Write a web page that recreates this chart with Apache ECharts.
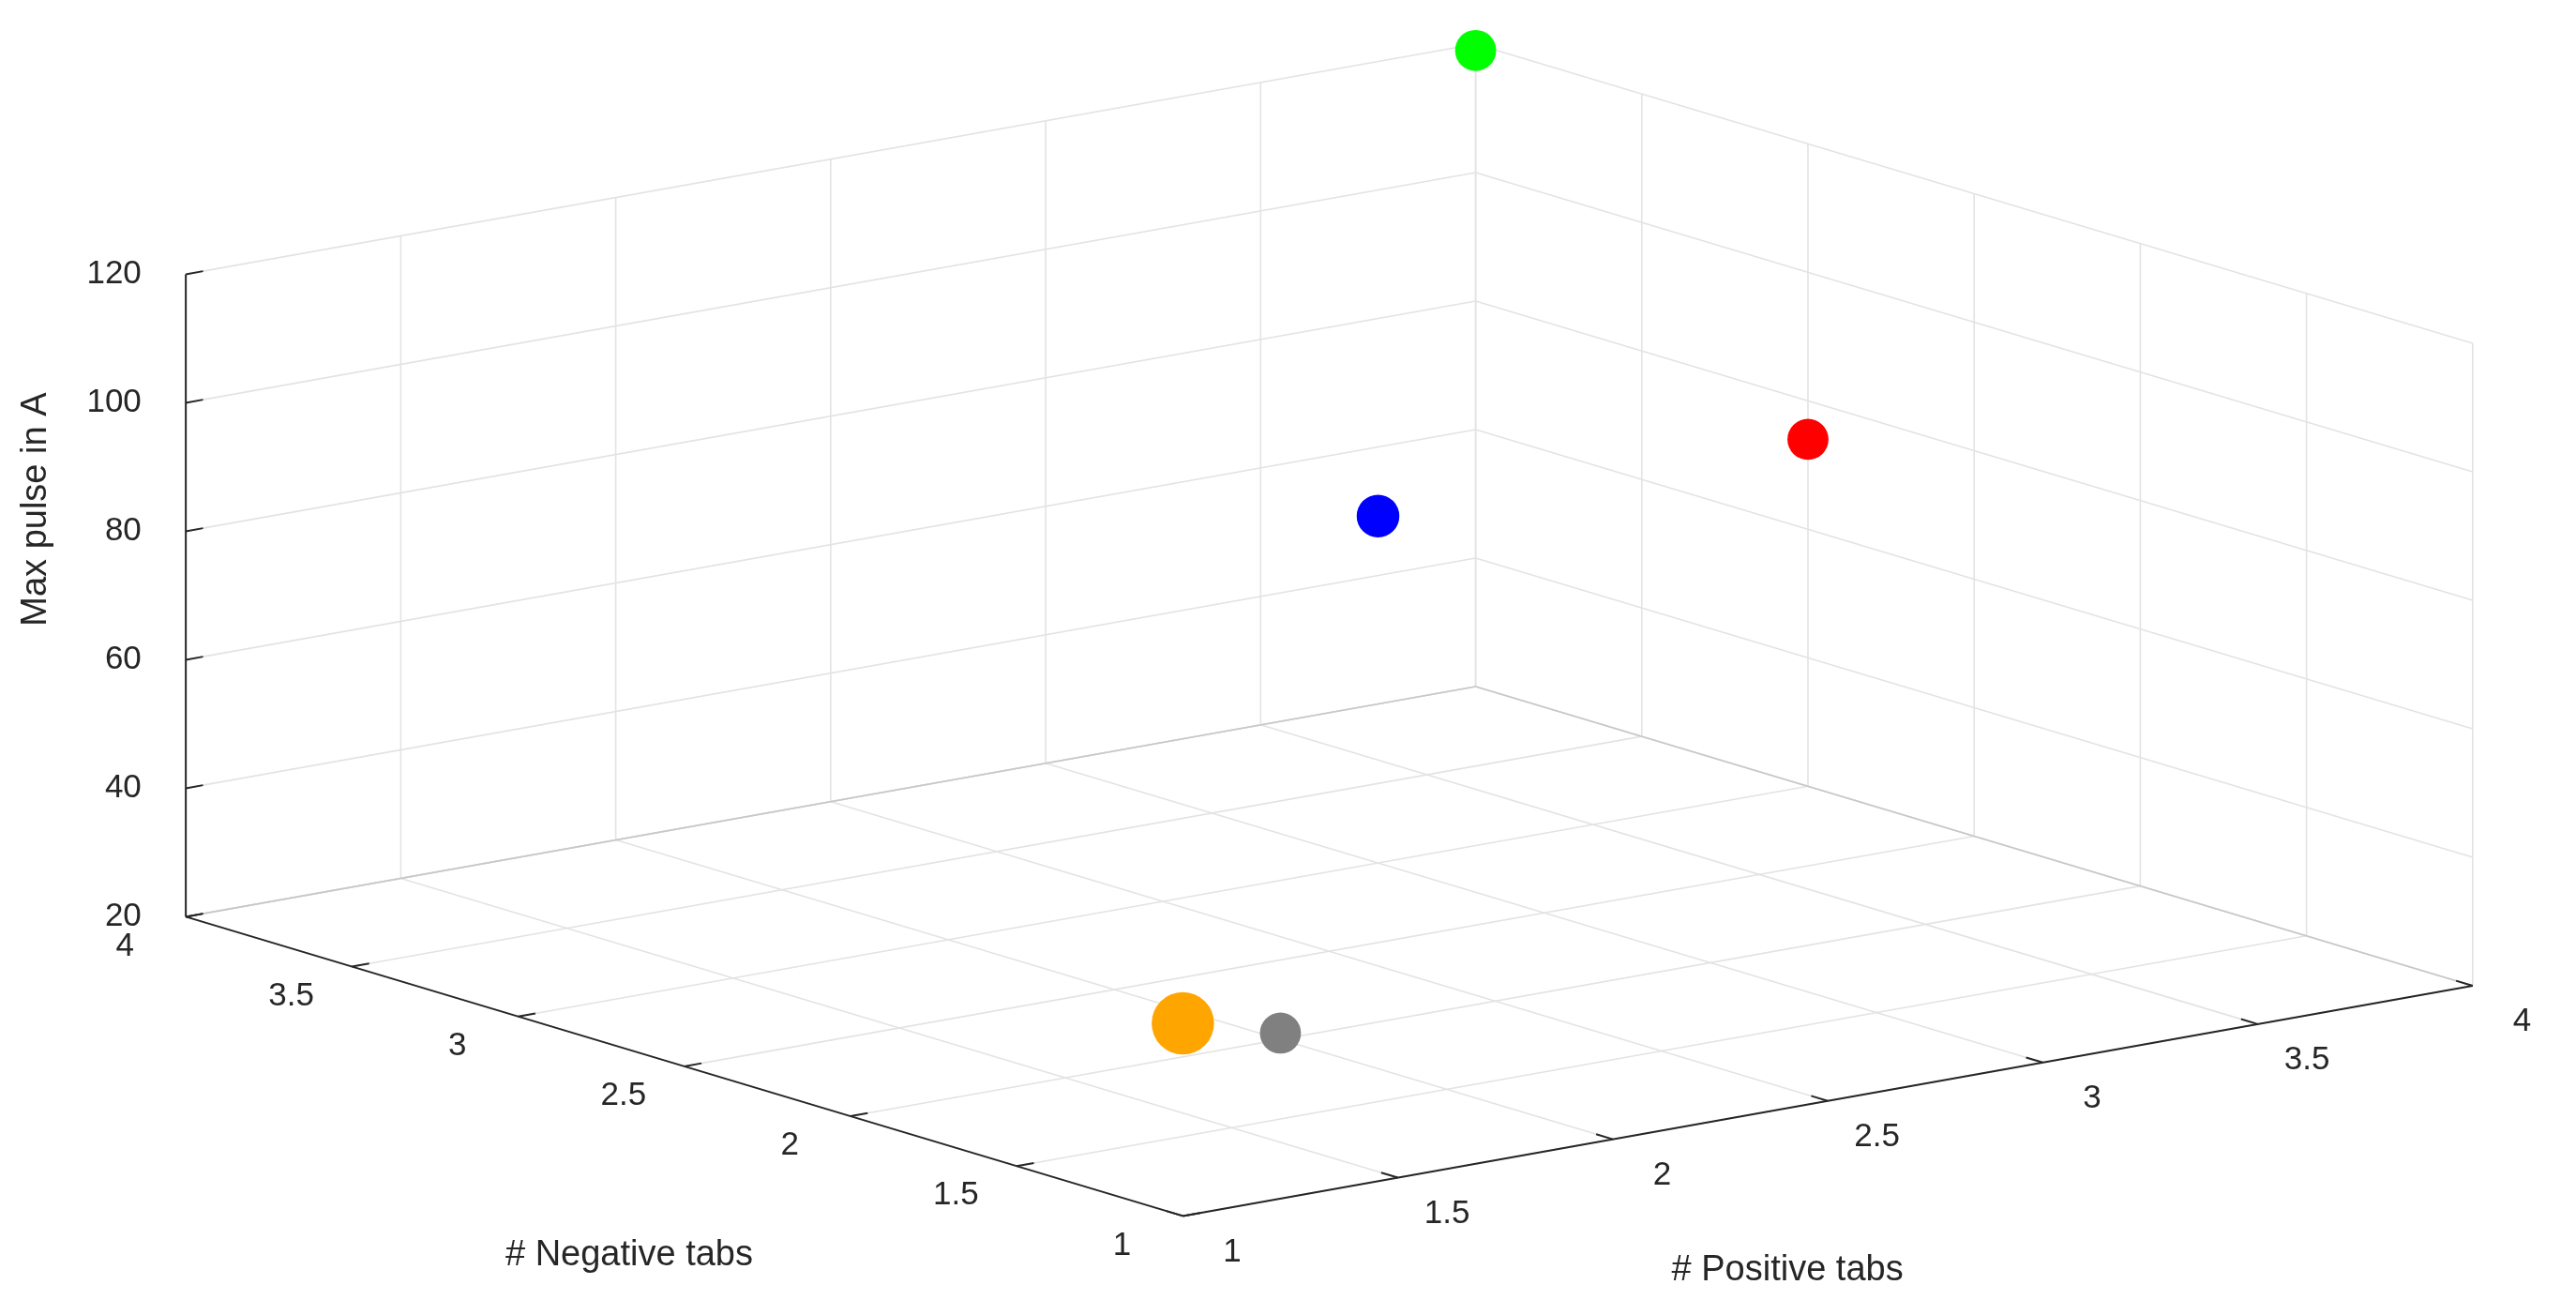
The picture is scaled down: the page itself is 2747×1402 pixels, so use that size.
<!DOCTYPE html>
<html><head><meta charset="utf-8">
<script src="https://cdn.jsdelivr.net/npm/echarts@6/dist/echarts.min.js"></script>
<style>html,body{margin:0;padding:0;background:#fff}#c{width:2747px;height:1402px}</style>
</head><body><div id="c"></div>
<script>
// Data: [positive tabs, negative tabs, max pulse]
const positiveTabs = [4, 4, 3, 1, 2];
const negativeTabs = [4, 3, 3, 1, 2];
const maxPulse     = [119, 74, 74, 50, 21];
const pointColors  = ['#00ff00', '#ff0000', '#0000ff', '#ffa500', '#808080'];
const pointSizes   = [12.5, 12.5, 13, 19, 12.5];
const posTicks = [1, 1.5, 2, 2.5, 3, 3.5, 4];
const negTicks = [1, 1.5, 2, 2.5, 3, 3.5, 4];
const zTicks = [20, 40, 60, 80, 100, 120];

const k = 2747 / 1568;
function proj(p, n, z) {
  return [k * (720 + (p - 1) * 261.7 + (n - 1) * -202.3),
          k * (740 + (p - 1) * -46.7 + (n - 1) * -60.7 + (z - 20) * -3.91)];
}
const segs = [];
const G = '#e3e3e3', D = '#262626';
posTicks.forEach(p => { segs.push([p,1,20,p,4,20,G]); segs.push([p,4,20,p,4,120,G]); });
negTicks.forEach(n => { segs.push([1,n,20,4,n,20,G]); segs.push([4,n,20,4,n,120,G]); });
zTicks.forEach(z => { segs.push([1,4,z,4,4,z,G]); segs.push([4,1,z,4,4,z,G]); });
segs.push([1,4,20,4,4,20,'#c8c8c8']); segs.push([4,1,20,4,4,20,'#c8c8c8']);
segs.push([1,1,20,1,4,20,D]); segs.push([1,1,20,4,1,20,D]); segs.push([1,4,20,1,4,120,D]);
posTicks.forEach(p => segs.push([p,1,20,p,1.05,20,D]));
negTicks.forEach(n => segs.push([1,n,20,1.04,n,20,D]));
zTicks.forEach(z => segs.push([1,4,z,1.04,4,z,D]));

const fmt = v => String(v);
const labels = [];
negTicks.forEach(n => { const q = proj(1,n,20); labels.push([q[0]-37*k, q[1]+18*k, fmt(n), 'center']); });
posTicks.forEach(p => { const q = proj(p,1,20); labels.push([q[0]+30*k, q[1]+22*k, fmt(p), 'center']); });
zTicks.forEach(z => { const q = proj(1,4,z); labels.push([q[0]-27*k, q[1], fmt(z), 'right']); });

const font = 'Helvetica, Arial, "Liberation Sans", sans-serif';
const chart = echarts.init(document.getElementById('c'));
chart.setOption({
  animation: false,
  series: [
    { type: 'custom', coordinateSystem: 'none', data: segs.map((s, i) => i), silent: true,
      renderItem: (params, api) => { const s = segs[api.value(0)]; const a = proj(s[0],s[1],s[2]), b = proj(s[3],s[4],s[5]);
        return { type: 'line', shape: { x1: a[0], y1: a[1], x2: b[0], y2: b[1] }, style: { stroke: s[6], lineWidth: s[6] === D ? 2 : 1.6 } }; } },
    { type: 'custom', coordinateSystem: 'none', data: labels.map((s, i) => i), silent: true,
      renderItem: (params, api) => { const l = labels[api.value(0)];
        return { type: 'text', x: l[0], y: l[1], style: { text: l[2], fill: '#262626', font: '35px ' + font, align: l[3], verticalAlign: 'middle' } }; } },
    { type: 'custom', coordinateSystem: 'none', data: positiveTabs.map((p, i) => [p, negativeTabs[i], maxPulse[i], i]),
      renderItem: (params, api) => { const q = proj(api.value(0), api.value(1), api.value(2)); const i = api.value(3);
        return { type: 'circle', shape: { cx: q[0], cy: q[1], r: pointSizes[i] * k }, style: { fill: pointColors[i] } }; } }
  ],
  graphic: [
    { type: 'text', x: 22 * k, y: 310 * k, rotation: Math.PI / 2, style: { text: 'Max pulse in A', fill: '#262626', font: '38px ' + font, align: 'center', verticalAlign: 'middle' } },
    { type: 'text', x: 383 * k, y: 764 * k, style: { text: '# Negative tabs', fill: '#262626', font: '38px ' + font, align: 'center', verticalAlign: 'middle' } },
    { type: 'text', x: 1088 * k, y: 773 * k, style: { text: '# Positive tabs', fill: '#262626', font: '38px ' + font, align: 'center', verticalAlign: 'middle' } }
  ]
});
</script></body></html>
